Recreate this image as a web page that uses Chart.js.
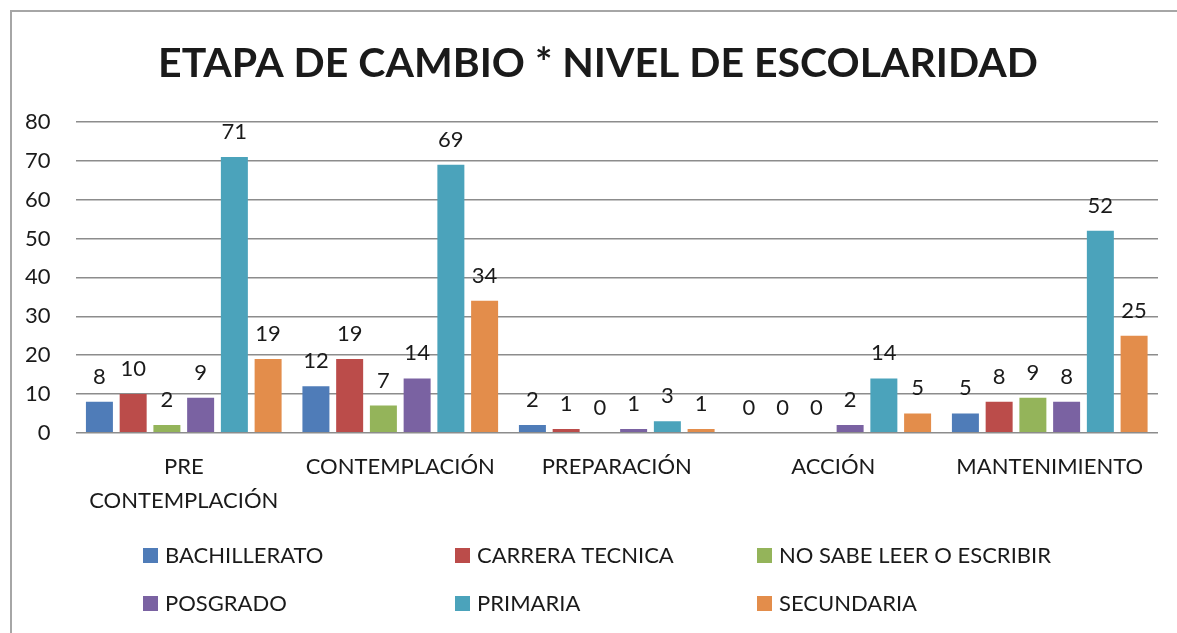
<!DOCTYPE html>
<html>
<head>
<meta charset="utf-8">
<script src="https://cdn.jsdelivr.net/npm/chart.js@4.4.0/dist/chart.umd.min.js"></script>
<style>
  html, body { margin: 0; padding: 0; background: #fff; }
  #wrap { position: relative; width: 1177px; height: 633px; }
  #frame { position: absolute; left: 10px; top: 10px; right: -5px; bottom: -5px;
           border-left: 2px solid #a6a6a6; border-top: 2px solid #a6a6a6; }
  canvas { position: absolute; left: 0; top: 0; }
</style>
</head>
<body>
<div id="wrap">
  <div id="frame"></div>
  <canvas id="chart" width="1177" height="633"></canvas>
</div>
<script>
const stages = [["PRE", "CONTEMPLACIÓN"], "CONTEMPLACIÓN", "PREPARACIÓN", "ACCIÓN", "MANTENIMIENTO"];
const seriesNames = ["BACHILLERATO", "CARRERA TECNICA", "NO SABE LEER O ESCRIBIR", "POSGRADO", "PRIMARIA", "SECUNDARIA"];
const bachillerato = [8, 12, 2, 0, 5];
const carreraTecnica = [10, 19, 1, 0, 8];
const noSabe = [2, 7, 0, 0, 9];
const posgrado = [9, 14, 1, 2, 8];
const primaria = [71, 69, 3, 14, 52];
const secundaria = [19, 34, 1, 5, 25];
const yTicks = [0, 10, 20, 30, 40, 50, 60, 70, 80];
const chartTitle = "ETAPA DE CAMBIO * NIVEL DE ESCOLARIDAD";

const colors = ["#4f7cb8", "#bb4c4a", "#94b45a", "#7a62a2", "#4ba3bb", "#e38d4b"];
const FONT = "Lato, 'Liberation Sans', sans-serif";

// title drawn by hand so it can sit a little right of centre, as in the picture
const titlePlugin = {
  id: "titlePlugin",
  afterDraw(chart) {
    const ctx = chart.ctx;
    ctx.save();
    ctx.font = "bold 41px " + FONT;
    ctx.fillStyle = "#1a1a1a";
    ctx.textAlign = "center";
    ctx.textBaseline = "alphabetic";
    ctx.fillText(chartTitle, 598, 77);
    ctx.restore();
  }
};

const dataLabels = {
  id: "dataLabels",
  afterDatasetsDraw(chart) {
    const ctx = chart.ctx;
    ctx.save();
    ctx.font = "22px " + FONT;
    ctx.fillStyle = "#1a1a1a";
    ctx.textAlign = "center";
    ctx.textBaseline = "alphabetic";
    chart.data.datasets.forEach((ds, i) => {
      chart.getDatasetMeta(i).data.forEach((bar, j) => {
        ctx.fillText(ds.data[j], bar.x, bar.y - 18);
      });
    });
    ctx.restore();
  }
};

// legend laid out in three columns like the original
const gridLegend = {
  id: "gridLegend",
  afterDraw(chart) {
    const ctx = chart.ctx;
    const cols = [143, 455, 757];
    const rows = [555, 603];
    ctx.save();
    ctx.font = "22px " + FONT;
    ctx.textBaseline = "middle";
    ctx.textAlign = "left";
    seriesNames.forEach((name, i) => {
      const x = cols[i % 3];
      const y = rows[Math.floor(i / 3)];
      ctx.fillStyle = colors[i];
      ctx.fillRect(x, y - 7, 15, 15);
      ctx.fillStyle = "#1a1a1a";
      ctx.fillText(name, x + 22, y + 1);
    });
    ctx.restore();
  }
};

const series = [bachillerato, carreraTecnica, noSabe, posgrado, primaria, secundaria];

new Chart(document.getElementById("chart"), {
  type: "bar",
  data: {
    labels: stages,
    datasets: series.map((d, i) => ({
      label: seriesNames[i],
      data: d,
      backgroundColor: colors[i],
      categoryPercentage: 0.935,
      barPercentage: 0.8
    }))
  },
  options: {
    responsive: false,
    animation: false,
    layout: { padding: { left: 0, right: 19, top: 122, bottom: 106 } },
    plugins: {
      legend: { display: false },
      tooltip: { enabled: false },
      title: { display: false }
    },
    scales: {
      x: {
        grid: { display: false },
        border: { display: false },
        ticks: {
          color: "#1a1a1a",
          font: { family: FONT, size: 22, lineHeight: 1.55 },
          maxRotation: 0,
          autoSkip: false,
          padding: 9
        }
      },
      y: {
        min: 0,
        max: 80,
        afterBuildTicks: axis => { axis.ticks = yTicks.map(v => ({ value: v })); },
        grid: { color: "#8c8c8c", lineWidth: 1.5, drawTicks: false },
        border: { display: false },
        ticks: {
          color: "#1a1a1a",
          font: { family: FONT, size: 22 },
          padding: 25
        }
      }
    }
  },
  plugins: [titlePlugin, dataLabels, gridLegend]
});
</script>
</body>
</html>
